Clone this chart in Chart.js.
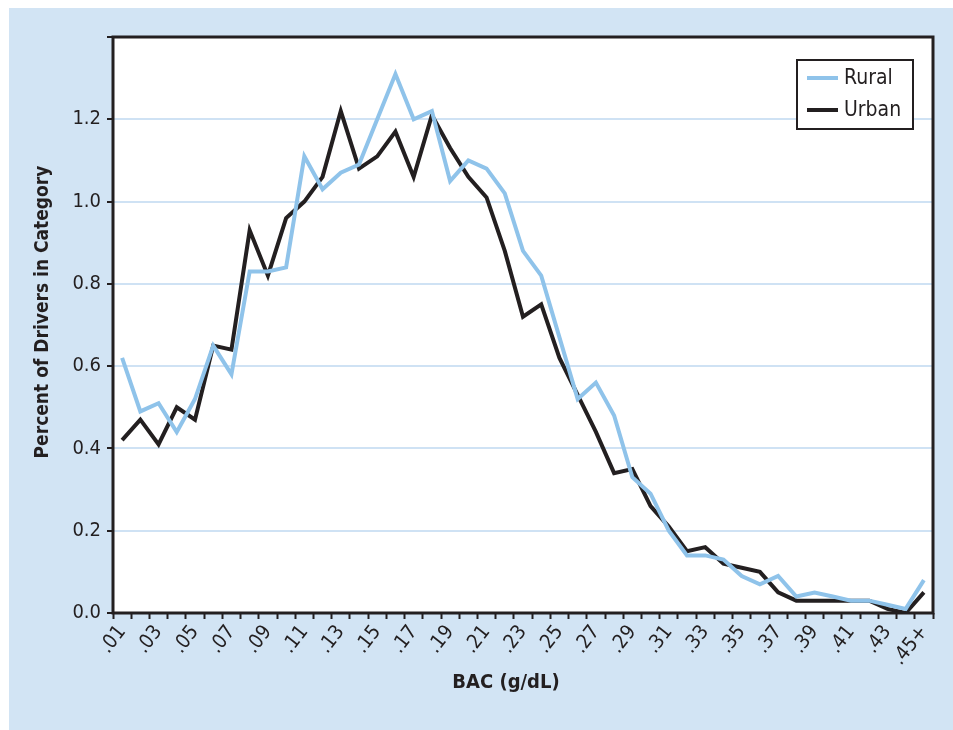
<!DOCTYPE html>
<html>
<head>
<meta charset="utf-8">
<script src="https://cdn.jsdelivr.net/npm/chart.js@4.4.1/dist/chart.umd.min.js"></script>
<style>
  html, body { margin: 0; padding: 0; background: #ffffff; }
  canvas { display: block; }
</style>
</head>
<body>
<canvas id="c" width="953" height="730"></canvas>
<script>
const categories = ['.01','.02','.03','.04','.05','.06','.07','.08','.09','.10',
  '.11','.12','.13','.14','.15','.16','.17','.18','.19','.20',
  '.21','.22','.23','.24','.25','.26','.27','.28','.29','.30',
  '.31','.32','.33','.34','.35','.36','.37','.38','.39','.40',
  '.41','.42','.43','.44','.45+'];
const rural = [0.62,0.49,0.51,0.44,0.52,0.65,0.58,0.83,0.83,0.84,
  1.11,1.03,1.07,1.09,1.20,1.31,1.20,1.22,1.05,1.10,
  1.08,1.02,0.88,0.82,0.67,0.52,0.56,0.48,0.33,0.29,
  0.20,0.14,0.14,0.13,0.09,0.07,0.09,0.04,0.05,0.04,
  0.03,0.03,0.02,0.01,0.08];
const urban = [0.42,0.47,0.41,0.50,0.47,0.65,0.64,0.93,0.82,0.96,
  1.00,1.06,1.22,1.08,1.11,1.17,1.06,1.21,1.13,1.06,
  1.01,0.88,0.72,0.75,0.62,0.53,0.44,0.34,0.35,0.26,
  0.21,0.15,0.16,0.12,0.11,0.10,0.05,0.03,0.03,0.03,
  0.03,0.03,0.01,0.00,0.05];
const yTickValues = [0.0, 0.2, 0.4, 0.6, 0.8, 1.0, 1.2];
const seriesNames = ['Rural', 'Urban'];
const xTitle = 'BAC (g/dL)';
const yTitle = 'Percent of Drivers in Category';

const FONT = '"Liberation Sans Narrow", "DejaVu Sans Condensed", "Arial Narrow", sans-serif';
const BLUE = '#8fc3ea';
const BLACK = '#231f20';
const BG = '#d2e4f4';
const GRID = '#cfe2f4';

const bgPlugin = {
  id: 'bg',
  beforeDraw(chart) {
    const ctx = chart.ctx;
    ctx.save();
    ctx.fillStyle = '#ffffff';
    ctx.fillRect(0, 0, chart.width, chart.height);
    ctx.fillStyle = BG;
    ctx.fillRect(9, 8, chart.width - 9, chart.height - 8);
    const a = chart.chartArea;
    ctx.fillStyle = '#ffffff';
    ctx.fillRect(a.left, a.top, a.right - a.left, a.bottom - a.top);
    ctx.restore();
  },
  afterDraw(chart) {
    const ctx = chart.ctx;
    const a = chart.chartArea;
    ctx.save();
    ctx.strokeStyle = BLACK;
    ctx.lineWidth = 3;
    ctx.strokeRect(a.left, a.top, a.right - a.left, a.bottom - a.top);

    // axis titles
    ctx.fillStyle = BLACK;
    ctx.font = 'bold 20px ' + FONT;
    ctx.textAlign = 'center';
    ctx.textBaseline = 'alphabetic';
    ctx.fillText(xTitle, 506, 688);
    ctx.save();
    ctx.translate(48, 312);
    ctx.rotate(-Math.PI / 2);
    ctx.font = 'bold 19px ' + FONT;
    ctx.fillText(yTitle, 0, 0);
    ctx.restore();

    // legend
    const bx = 797, by = 60, bw = 116, bh = 69;
    ctx.fillStyle = '#ffffff';
    ctx.fillRect(bx, by, bw, bh);
    ctx.lineWidth = 2;
    ctx.strokeStyle = BLACK;
    ctx.strokeRect(bx, by, bw, bh);
    ctx.font = '21px ' + FONT;
    ctx.textBaseline = 'middle';
    ctx.textAlign = 'left';
    chart.data.datasets.forEach((ds, i) => {
      const y = by + 18 + i * 32;
      ctx.strokeStyle = ds.borderColor;
      ctx.lineWidth = 4;
      ctx.beginPath();
      ctx.moveTo(bx + 10, y);
      ctx.lineTo(bx + 41, y);
      ctx.stroke();
      ctx.fillStyle = BLACK;
      ctx.fillText(ds.label, bx + 47, y + 1);
    });
    ctx.restore();
  }
};

new Chart(document.getElementById('c'), {
  type: 'line',
  data: {
    labels: categories,
    datasets: [
      { label: seriesNames[0], data: rural, borderColor: BLUE, borderWidth: 4, pointRadius: 0, tension: 0, borderJoinStyle: 'miter', fill: false },
      { label: seriesNames[1], data: urban, borderColor: BLACK, borderWidth: 4, pointRadius: 0, tension: 0, borderJoinStyle: 'miter', fill: false }
    ]
  },
  options: {
    responsive: false,
    animation: false,
    layout: { padding: { left: 9, top: 37, right: 20, bottom: 0 } },
    plugins: { legend: { display: false }, tooltip: { enabled: false } },
    scales: {
      x: {
        type: 'category',
        offset: true,
        grid: { offset: true, drawOnChartArea: false, drawTicks: true, tickLength: 6, tickWidth: 2, tickColor: BLACK, color: BLACK },
        border: { display: false },
        ticks: {
          autoSkip: false,
          minRotation: 52,
          maxRotation: 52,
          padding: 2,
          color: BLACK,
          font: { family: FONT, size: 20 },
          callback: function(v, i) { return i % 2 === 0 ? categories[i] : ''; }
        },
        title: { display: false },
        afterFit(scale) { scale.height = 117; }
      },
      y: {
        min: 0,
        max: 1.4,
        grid: { color: (c) => (c.tick && c.tick.value > 0 && c.tick.value < 1.4) ? GRID : 'rgba(0,0,0,0)', lineWidth: 2, tickLength: 6, tickWidth: 2, tickColor: BLACK, drawTicks: true },
        border: { display: false },
        ticks: {
          stepSize: 0.2,
          padding: 6,
          color: BLACK,
          font: { family: FONT, size: 20 },
          callback: function(v) {
            const r = Math.round(v * 10) / 10;
            return yTickValues.some(t => Math.abs(t - r) < 1e-6) ? r.toFixed(1) : '';
          }
        },
        title: { display: false },
        afterFit(scale) { scale.width = 104; }
      }
    }
  },
  plugins: [bgPlugin]
});
</script>
</body>
</html>
